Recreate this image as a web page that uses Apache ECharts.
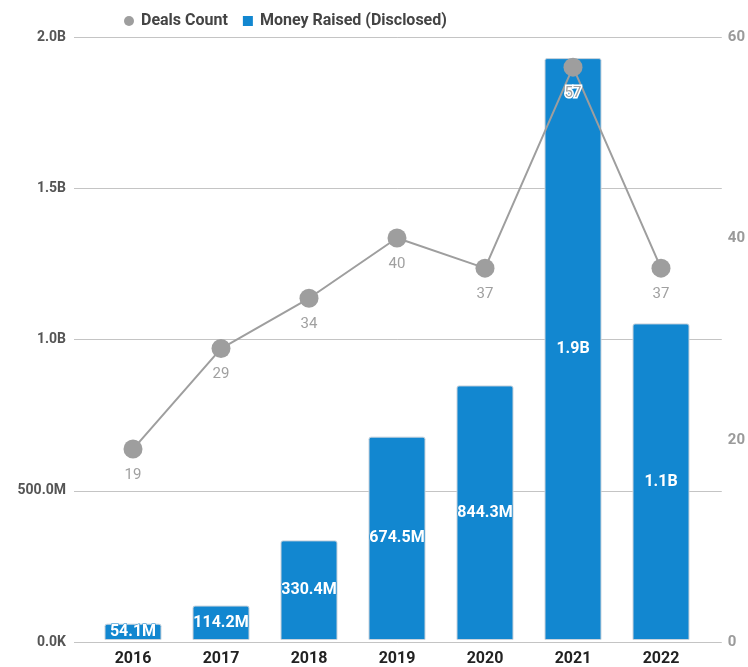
<!DOCTYPE html>
<html>
<head>
<meta charset="utf-8">
<script src="https://cdn.jsdelivr.net/npm/echarts@6/dist/echarts.min.js"></script>
<style>
  html, body { margin: 0; padding: 0; background: #fff; }
  #chart { width: 748px; height: 667px; }
</style>
</head>
<body>
<div id="chart"></div>
<script>
// Funding per year: disclosed money raised (USD) and number of deals
const years = ['2016', '2017', '2018', '2019', '2020', '2021', '2022'];
const moneyRaised = [54.1e6, 114.2e6, 330.4e6, 674.5e6, 844.3e6, 1.93e9, 1.05e9];
const dealsCount = [19, 29, 34, 40, 37, 57, 37];
const moneyTicks = ['0.0K', '500.0M', '1.0B', '1.5B', '2.0B'];
const dealsTicks = ['0', '20', '40', '60'];

const FONT = 'Roboto, "Noto Sans", sans-serif';
const BLUE = '#1287d0';
const GREY = '#9e9e9e';

function formatMoney(v) {
  if (v >= 1e9) return (v / 1e9).toFixed(1) + 'B';
  if (v >= 1e6) return (v / 1e6).toFixed(1) + 'M';
  return (v / 1e3).toFixed(1) + 'K';
}

const MONEY_MAX = 2e9, MONEY_STEP = 5e8;
const DEALS_MAX = 60, DEALS_STEP = 20;

const chart = echarts.init(document.getElementById('chart'), null, { renderer: 'canvas' });

chart.setOption({
  backgroundColor: '#fff',
  animation: false,
  textStyle: { fontFamily: FONT },
  legend: {
    top: 8,
    left: 119,
    itemGap: 15,
    itemWidth: 10,
    itemHeight: 10,
    itemStyle: { borderWidth: 0 },
    textStyle: { fontSize: 16, fontWeight: 'bold', color: '#444', fontFamily: FONT, padding: [0, 0, 0, 2] },
    data: [
      { name: 'Deals Count', icon: 'circle' },
      { name: 'Money Raised (Disclosed)', icon: 'rect' }
    ]
  },
  grid: [
    // frame with the value axes and their gridlines
    { left: 74, right: 26, top: 37, bottom: 25 },
    // the years and the series
    { left: 89, right: 43, top: 37, bottom: 25 }
  ],
  xAxis: [
    { gridIndex: 0, type: 'category', data: years, show: false },
    {
      gridIndex: 1,
      type: 'category',
      data: years,
      axisLine: { show: false },
      axisTick: { show: false },
      axisLabel: { margin: 11, fontSize: 16, fontWeight: 'bold', color: '#222', fontFamily: FONT }
    }
  ],
  yAxis: [
    {
      gridIndex: 0,
      type: 'value',
      min: 0, max: MONEY_MAX, interval: MONEY_STEP,
      axisLine: { show: false },
      axisTick: { show: false },
      splitLine: { lineStyle: { color: '#c4c4c4', width: 1 } },
      axisLabel: {
        margin: 8,
        fontSize: 14, fontWeight: 'bold', color: '#555', fontFamily: FONT,
        formatter: (v) => moneyTicks[Math.round(v / MONEY_STEP)]
      }
    },
    {
      gridIndex: 0,
      type: 'value',
      position: 'right',
      min: 0, max: DEALS_MAX, interval: DEALS_STEP,
      axisLine: { show: false },
      axisTick: { show: false },
      splitLine: { show: false },
      axisLabel: {
        margin: 6,
        fontSize: 15, fontWeight: 'bold', color: '#9a9a9a', fontFamily: FONT,
        formatter: (v) => dealsTicks[Math.round(v / DEALS_STEP)]
      }
    },
    { gridIndex: 1, type: 'value', min: 0, max: MONEY_MAX, show: false, splitLine: { show: false } },
    { gridIndex: 1, type: 'value', min: 0, max: DEALS_MAX, show: false, splitLine: { show: false } }
  ],
  series: [
    {
      name: 'Money Raised (Disclosed)',
      type: 'bar',
      xAxisIndex: 1,
      yAxisIndex: 2,
      data: moneyRaised,
      barWidth: 57,
      itemStyle: { color: BLUE, borderColor: '#c9d3dc', borderWidth: 1, borderRadius: [2, 2, 0, 0] },
      label: {
        show: true,
        position: 'inside',
        formatter: (p) => formatMoney(p.value),
        fontSize: 16,
        fontWeight: 'bold',
        color: '#fff',
        fontFamily: FONT,
        textBorderColor: BLUE,
        textBorderWidth: 1
      },
      z: 2
    },
    {
      name: 'Deals Count',
      type: 'line',
      xAxisIndex: 1,
      yAxisIndex: 3,
      data: dealsCount,
      symbol: 'circle',
      symbolSize: 19,
      lineStyle: { color: GREY, width: 2 },
      itemStyle: { color: GREY },
      label: {
        show: true,
        position: 'bottom',
        distance: 9,
        fontSize: 15,
        color: '#a0a0a0',
        fontFamily: FONT,
        textBorderColor: '#fff',
        textBorderWidth: 3
      },
      z: 5
    }
  ]
});
</script>
</body>
</html>
